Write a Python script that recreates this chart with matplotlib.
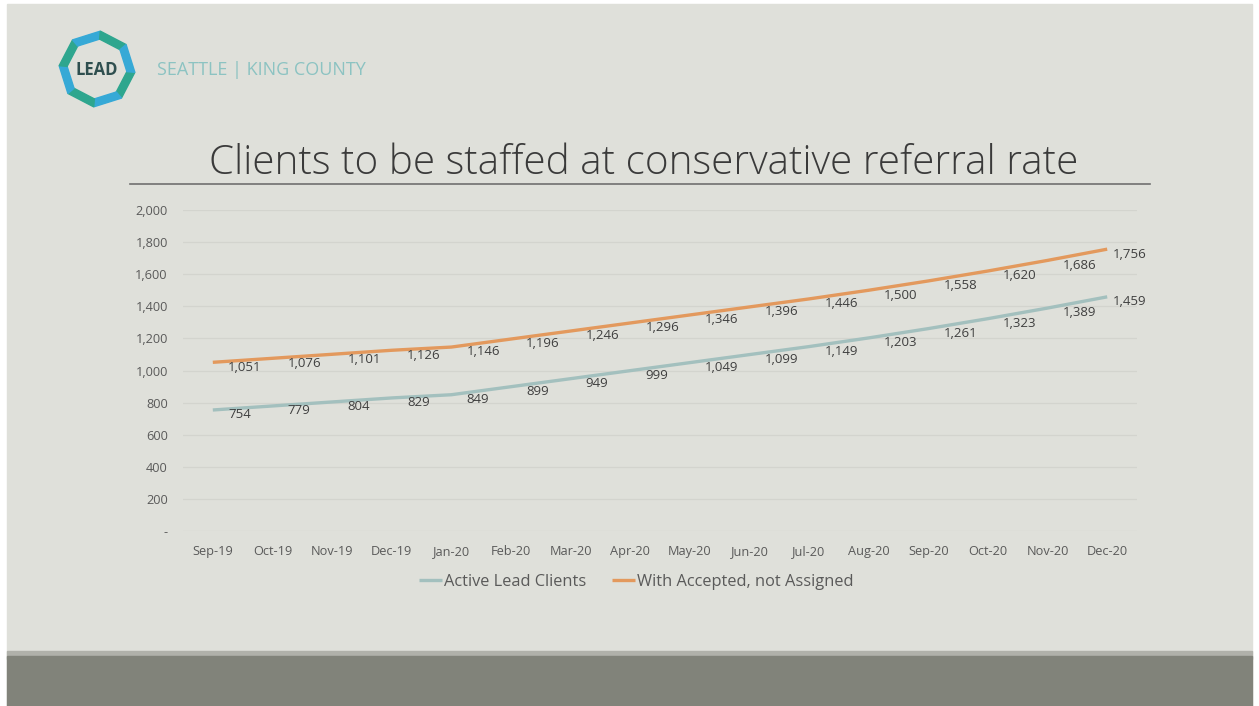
import matplotlib.pyplot as plt
from matplotlib.patches import Rectangle, Polygon
from matplotlib.ticker import FuncFormatter
import numpy as np

# --- data ---
months = ["Sep-19", "Oct-19", "Nov-19", "Dec-19", "Jan-20", "Feb-20", "Mar-20", "Apr-20",
          "May-20", "Jun-20", "Jul-20", "Aug-20", "Sep-20", "Oct-20", "Nov-20", "Dec-20"]
active_clients = [754, 779, 804, 829, 849, 899, 949, 999,
                  1049, 1099, 1149, 1203, 1261, 1323, 1389, 1459]
with_accepted = [1051, 1076, 1101, 1126, 1146, 1196, 1246, 1296,
                 1346, 1396, 1446, 1500, 1558, 1620, 1686, 1756]
y_ticks = [0, 200, 400, 600, 800, 1000, 1200, 1400, 1600, 1800, 2000]

title = "Clients to be staffed at conservative referral rate"
legend_labels = ["Active Lead Clients", "With Accepted, not Assigned"]

# --- style ---
BG = "#dfe0da"
BAND = "#81837a"
TEAL = "#a3c0be"
ORANGE = "#e3995d"
TXT = "#3f3f3f"
TICK = "#5a5a5a"
FONT = ["Liberation Sans Narrow", "Open Sans", "DejaVu Sans"]

W, H = 1259, 706
fig = plt.figure(figsize=(W / 100, H / 100), dpi=100)
fig.patch.set_facecolor("white")

# background layer in pixel coordinates
bg = fig.add_axes([0, 0, 1, 1])
bg.set_xlim(0, W)
bg.set_ylim(H, 0)
bg.axis("off")
bg.add_patch(Rectangle((7, 4), W - 14, H - 4, color=BG, zorder=0))
bg.add_patch(Rectangle((7, 651), W - 14, 8, color="#b0b1aa", zorder=1))
bg.add_patch(Rectangle((7, 656), W - 14, H - 656, color=BAND, zorder=1))

# logo: segmented octagon ring
cx, cy, r_out, r_in = 97, 69, 38, 30
n = 8
for k in range(n):
    a0 = np.deg2rad(5 + k * 45)
    a1 = np.deg2rad(5 + (k + 1) * 45)
    pts = [(cx + r_out * np.cos(a0), cy + r_out * np.sin(a0)),
           (cx + r_out * np.cos(a1), cy + r_out * np.sin(a1)),
           (cx + r_in * np.cos(a1), cy + r_in * np.sin(a1)),
           (cx + r_in * np.cos(a0), cy + r_in * np.sin(a0))]
    col = "#2ea68e" if k % 2 == 0 else "#36a9d6"
    bg.add_patch(Polygon(pts, closed=True, color=col, zorder=2))
bg.text(cx, cy + 1, "LEAD", ha="center", va="center", fontsize=12, fontweight="bold",
        color="#2f4f4f", family=FONT, zorder=3)
bg.text(157, 70, "SEATTLE | KING COUNTY", ha="left", va="center", fontsize=13,
        color="#8cc3c2", family=FONT, zorder=3)

# title and rule
bg.text(644, 164, title, ha="center", va="center", fontsize=29.1, color="#3a3a3a",
        family=["Open Sans", "DejaVu Sans"], fontweight="light", zorder=3)
bg.plot([130, 1150], [184, 184], color="#707070", lw=1.2, zorder=3)

# --- chart ---
x = np.arange(len(months))
ax = fig.add_axes([183 / W, 1 - 531 / H, (1137 - 183) / W, (531 - 210) / H])
ax.set_facecolor("none")
ax.plot(x, active_clients, color=TEAL, lw=2.4, solid_capstyle="butt", label=legend_labels[0])
ax.plot(x, with_accepted, color=ORANGE, lw=2.4, solid_capstyle="butt", label=legend_labels[1])

last = len(months) - 1
for series in (active_clients, with_accepted):
    for xi, v in zip(x, series):
        dx = 4 if xi == last else 11
        ax.annotate(f"{v:,}", (xi, v), xytext=(dx, -3.5), textcoords="offset points",
                    ha="left", va="center", fontsize=9.5, color=TXT, family=FONT)

ax.set_xlim(-0.5, len(months) - 0.5)
ax.set_ylim(0, 2000)
ax.set_yticks(y_ticks)
ax.yaxis.set_major_formatter(FuncFormatter(lambda v, p: "-" if v == 0 else f"{int(v):,}"))
ax.set_xticks(x)
ax.set_xticklabels(months)
ax.tick_params(axis="both", length=0, colors=TICK, labelsize=9.2)
ax.tick_params(axis="y", pad=11)
ax.tick_params(axis="x", pad=10)
for lab in ax.get_xticklabels() + ax.get_yticklabels():
    lab.set_family(FONT)
ax.grid(axis="y", color="#d3d4ce", lw=0.9)
ax.set_axisbelow(True)
for s in ax.spines.values():
    s.set_visible(False)

leg = ax.legend(loc="center", bbox_to_anchor=(636 / W, 1 - 582 / H),
                bbox_transform=fig.transFigure, ncol=2, frameon=False,
                prop={"family": FONT, "size": 11.8}, handlelength=1.4,
                handletextpad=0.1, columnspacing=1.6)
for t in leg.get_texts():
    t.set_color(TICK)

fig.savefig("out.png", dpi=100, facecolor=fig.get_facecolor())
